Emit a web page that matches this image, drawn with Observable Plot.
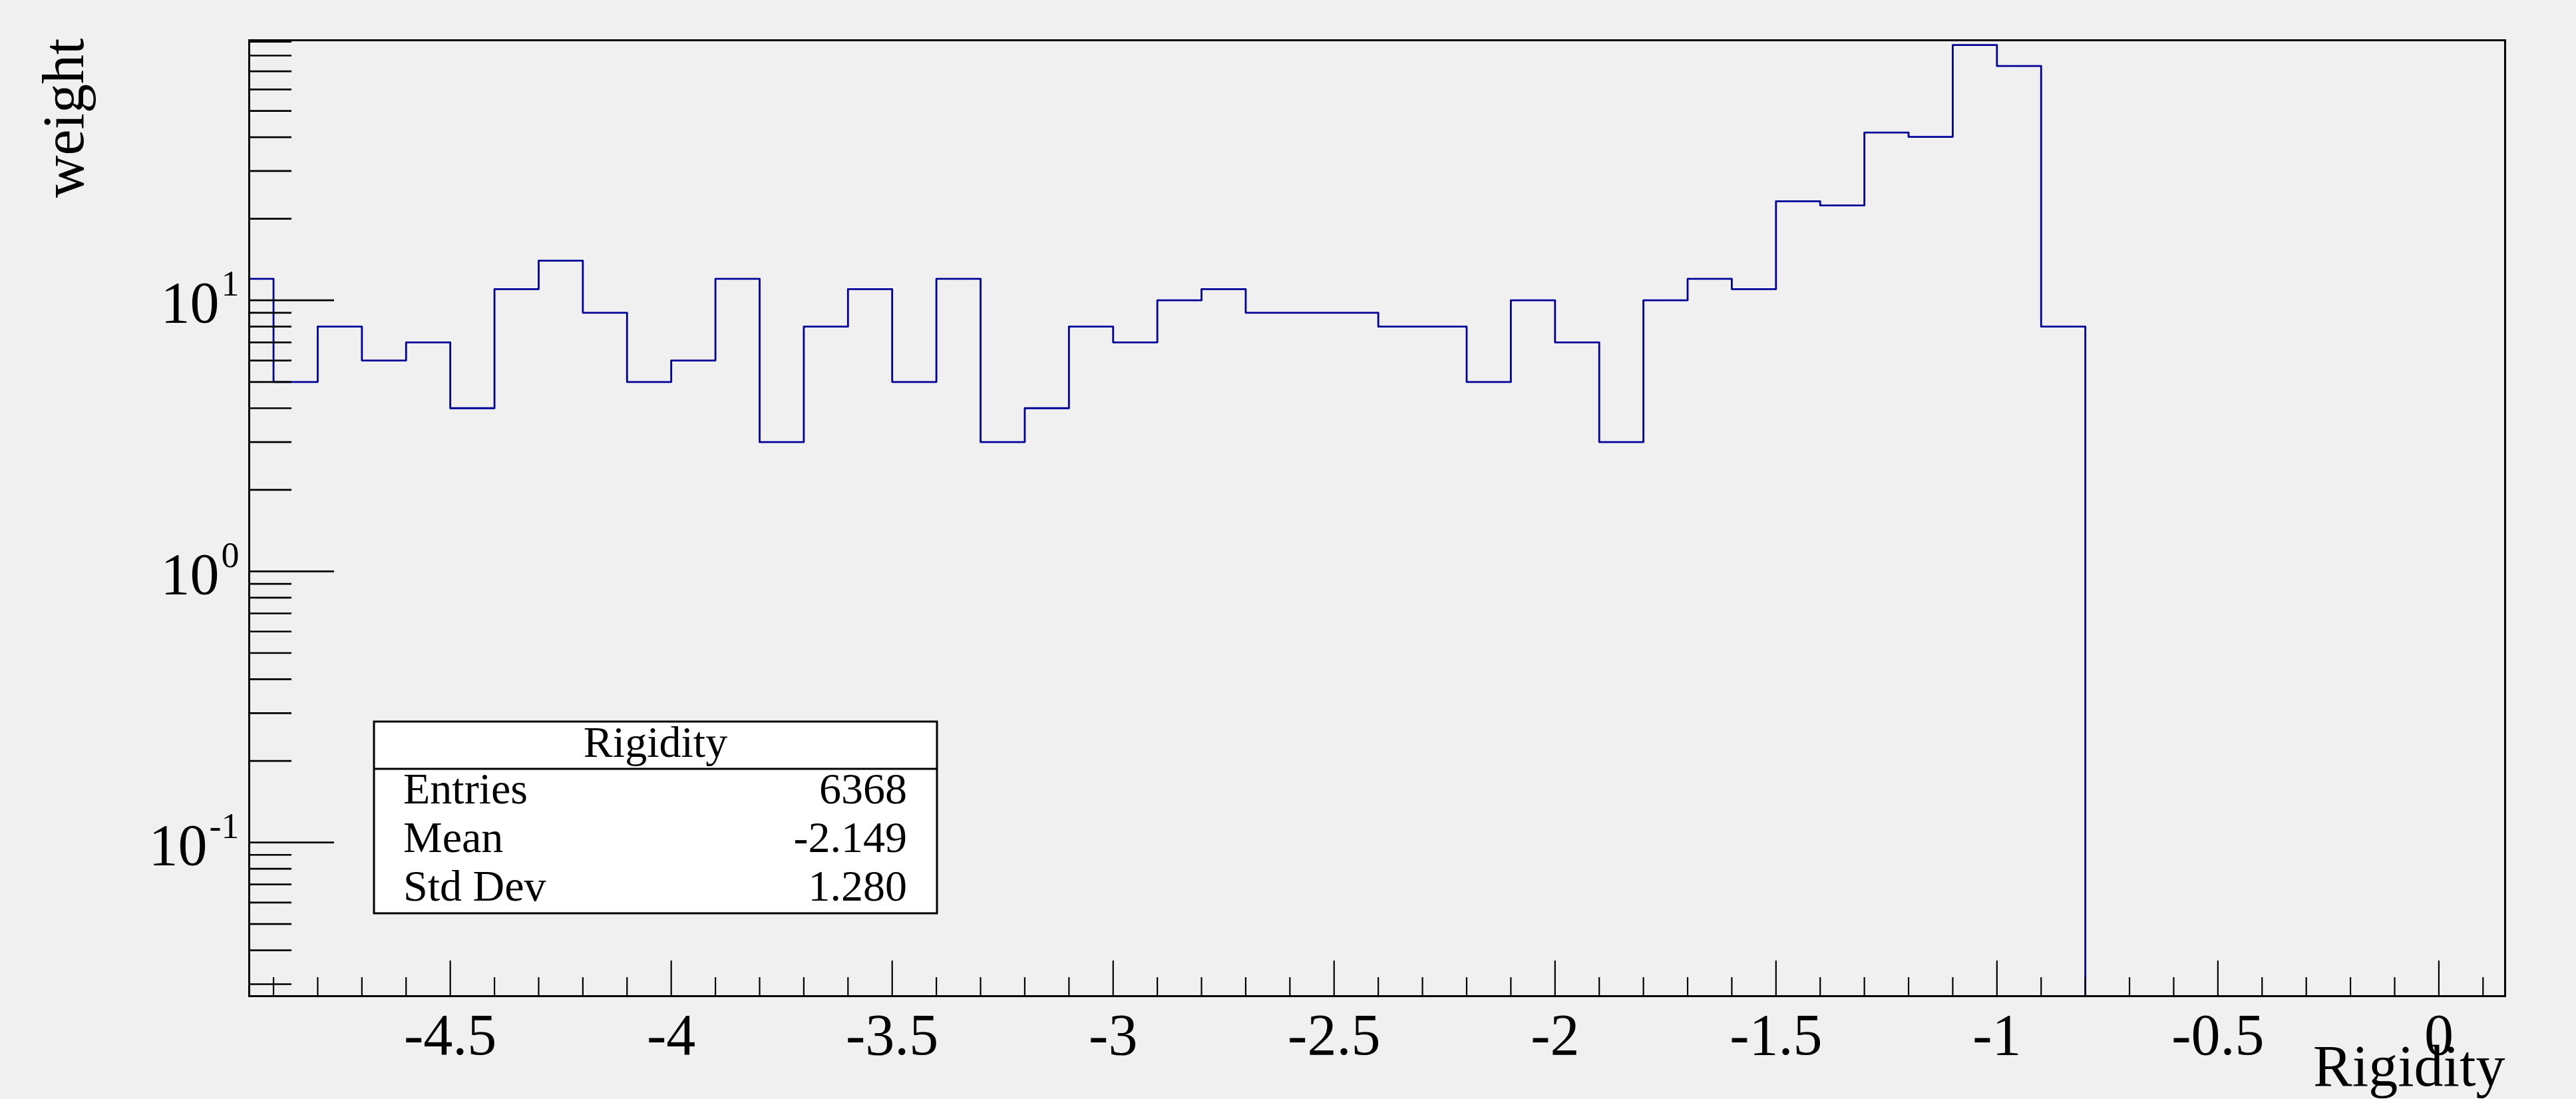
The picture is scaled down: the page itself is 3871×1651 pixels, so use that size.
<!DOCTYPE html>
<html>
<head>
<meta charset="utf-8">
<script src="https://cdn.jsdelivr.net/npm/d3@7"></script>
<script src="https://cdn.jsdelivr.net/npm/@observablehq/plot@0.6"></script>
<style>
html, body { margin: 0; padding: 0; background: #f0f0f0; }
#chart svg { display: block; }
</style>
</head>
<body>
<div id="chart"></div>
<script>
// ---- data ----
const binEdges = [-5.0, -4.9, -4.8, -4.7, -4.6, -4.5, -4.4, -4.3, -4.2, -4.1,
                  -4.0, -3.9, -3.8, -3.7, -3.6, -3.5, -3.4, -3.3, -3.2, -3.1,
                  -3.0, -2.9, -2.8, -2.7, -2.6, -2.5, -2.4, -2.3, -2.2, -2.1,
                  -2.0, -1.9, -1.8, -1.7, -1.6, -1.5, -1.4, -1.3, -1.2, -1.1,
                  -1.0, -0.9, -0.8];
const weights = [12, 5, 8, 6, 7, 4, 11, 14, 9, 5,
                 6, 12, 3, 8, 11, 5, 12, 3, 4, 8,
                 7, 10, 11, 9, 9, 9, 8, 8, 5, 10,
                 7, 3, 10, 12, 11, 23.2, 22.4, 41.6, 40.1, 87.5,
                 73.2, 8];
const xMajorTicks = [-4.5, -4, -3.5, -3, -2.5, -2, -1.5, -1, -0.5, 0];
const xMinorTicks = [-4.9, -4.8, -4.7, -4.6, -4.4, -4.3, -4.2, -4.1, -3.9, -3.8, -3.7, -3.6,
                     -3.4, -3.3, -3.2, -3.1, -2.9, -2.8, -2.7, -2.6, -2.4, -2.3, -2.2, -2.1,
                     -1.9, -1.8, -1.7, -1.6, -1.4, -1.3, -1.2, -1.1, -0.9, -0.8, -0.7, -0.6,
                     -0.4, -0.3, -0.2, -0.1, 0.1];
const yMajorTicks = [0.1, 1, 10];
const yMinorTicks = [0.03, 0.04, 0.05, 0.06, 0.07, 0.08, 0.09,
                     0.2, 0.3, 0.4, 0.5, 0.6, 0.7, 0.8, 0.9,
                     2, 3, 4, 5, 6, 7, 8, 9,
                     20, 30, 40, 50, 60, 70, 80, 90];
const xDomain = [-4.955, 0.15];
const yDomain = [0.0271, 91.1];
const xLabel = "Rigidity";
const yLabel = "weight";
const statsTitle = "Rigidity";
const statsLabels = ["Entries", "Mean", "Std Dev"];
const statsValues = ["6368", "-2.149", "1.280"];

// ---- layout ----
const W = 3871, H = 1651;
const mL = 374, mR = 107, mT = 60, mB = 155;
const plotW = W - mL - mR;
const plotH = H - mT - mB;
const font = "'Liberation Serif', 'Times New Roman', Times, serif";

// histogram outline (step) points
const steps = weights.map((w, i) => ({x: binEdges[i], y: w}));
steps.push({x: binEdges[weights.length], y: weights[weights.length - 1]});
steps.push({x: binEdges[weights.length], y: yDomain[0]});

const chart = Plot.plot({
  width: W, height: H,
  marginLeft: mL, marginRight: mR, marginTop: mT, marginBottom: mB,
  style: {background: "#f0f0f0", fontFamily: font, color: "black"},
  x: {domain: xDomain, label: null},
  y: {type: "log", domain: yDomain, label: null},
  marks: [
    Plot.line(steps, {x: "x", y: "y", curve: "step-after", stroke: "#000099", strokeWidth: 2.8, clip: true}),
    Plot.tickY(yMinorTicks, {y: d => d, insetRight: plotW - 64, stroke: "black", strokeWidth: 2.7}),
    Plot.tickY(yMajorTicks, {y: d => d, insetRight: plotW - 128, stroke: "black", strokeWidth: 2.7}),
    Plot.tickX(xMinorTicks, {x: d => d, insetTop: plotH - 28, stroke: "black", strokeWidth: 2.2}),
    Plot.tickX(xMajorTicks, {x: d => d, insetTop: plotH - 53, stroke: "black", strokeWidth: 2.2}),
    Plot.frame({stroke: "black", strokeWidth: 3}),
    Plot.axisX({ticks: xMajorTicks, tickSize: 0, tickPadding: 25, label: null,
                tickFormat: d => String(d), fontSize: 88, fill: "black"}),
    Plot.axisY({ticks: yMajorTicks, tickSize: 0, tickPadding: 15, dy: 5, label: null,
                tickFormat: d => "10^" + Math.round(Math.log10(d)), fontSize: 88, fill: "black"}),
    Plot.text([xLabel], {frameAnchor: "bottom-right", textAnchor: "end", lineAnchor: "bottom",
                         dy: 134, fontSize: 88, fill: "black"}),
    Plot.text([yLabel], {frameAnchor: "top-left", rotate: -90, textAnchor: "end", lineAnchor: "bottom",
                         dx: -250, dy: -3, fontSize: 88, fill: "black"})
  ]
});

// superscript exponents on y tick labels
d3.select(chart).selectAll('g[aria-label="y-axis tick label"] text').each(function () {
  const parts = this.textContent.split("^");
  if (parts.length !== 2) return;
  this.textContent = parts[0];
  d3.select(this).append("tspan").attr("dx", 3).attr("dy", -40).attr("font-size", 54).text(parts[1]);
});

// statistics box
const g = d3.select(chart).append("g").attr("font-family", font).attr("fill", "black");
g.append("rect").attr("x", 562).attr("y", 1084).attr("width", 846).attr("height", 288)
  .attr("fill", "white").attr("stroke", "black").attr("stroke-width", 3);
g.append("line").attr("x1", 562).attr("x2", 1408).attr("y1", 1155).attr("y2", 1155)
  .attr("stroke", "black").attr("stroke-width", 3);
g.append("text").attr("x", 985).attr("y", 1137).attr("text-anchor", "middle")
  .attr("font-size", 66).text(statsTitle);
const rowBaselines = [1207, 1280, 1353];
statsLabels.forEach((label, i) => {
  g.append("text").attr("x", 606).attr("y", rowBaselines[i]).attr("text-anchor", "start")
    .attr("font-size", 66).text(label);
  g.append("text").attr("x", 1363).attr("y", rowBaselines[i]).attr("text-anchor", "end")
    .attr("font-size", 66).text(statsValues[i]);
});

document.getElementById("chart").appendChild(chart);
</script>
</body>
</html>
